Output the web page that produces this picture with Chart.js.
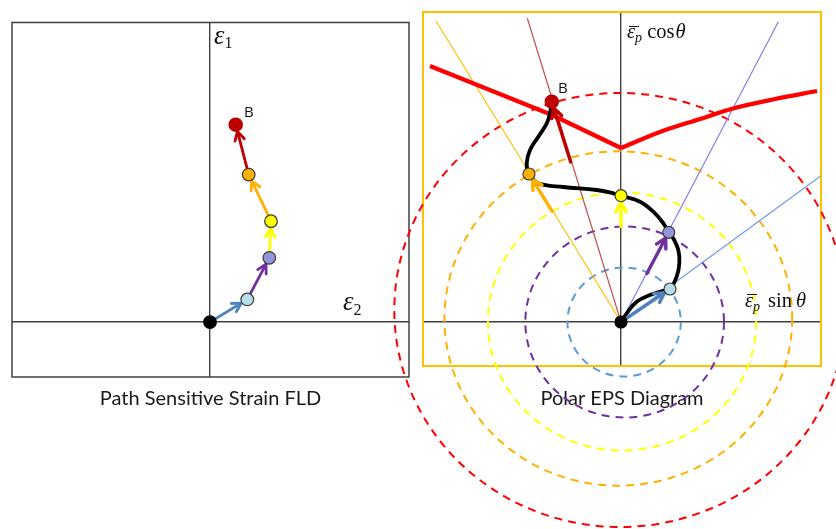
<!DOCTYPE html>
<html><head><meta charset="utf-8">
<script src="https://cdn.jsdelivr.net/npm/chart.js@4.4.1/dist/chart.umd.min.js"></script>
<style>
html,body{margin:0;padding:0;background:#fff;}
#wrap{position:relative;width:836px;height:529px;overflow:hidden;background:#fff;}
canvas{position:absolute;left:0;top:0;}
.lbl{position:absolute;white-space:nowrap;line-height:1;color:#111;}
.ser{font-family:'Liberation Serif','DejaVu Serif',serif;}
.san{font-family:'Open Sans','Liberation Sans',sans-serif;}
.ob{position:relative;}
.ob::before{content:'';position:absolute;left:2px;top:5.5px;width:10px;border-top:1.3px solid #111;}
.sub{font-size:14px;font-style:italic;vertical-align:-4px;}
</style></head><body>
<div id="wrap">
<canvas id="fld" width="836" height="529"></canvas>
<canvas id="polar" width="836" height="529"></canvas>
<div class="lbl ser" style="left:214px;top:22.2px;font-size:26.5px"><i>ε</i><span style="font-size:16px;vertical-align:-3.5px">1</span></div>
<div class="lbl ser" style="left:343px;top:287.7px;font-size:26.5px"><i>ε</i><span style="font-size:16px;vertical-align:-5px">2</span></div>
<div class="lbl san" style="left:244px;top:104.3px;font-size:15px">B</div>
<div class="lbl san" style="left:558px;top:79.9px;font-size:15px">B</div>
<div class="lbl ser" style="left:627px;top:21px;font-size:20.5px"><i class="ob">ε</i><span class="sub">p</span> cos<i style="margin-left:1px">θ</i></div>
<div class="lbl ser" style="left:745px;top:289.7px;font-size:20.5px"><i class="ob">ε</i><span class="sub">p</span><span style="margin-left:8px">sin</span><i style="margin-left:4px">θ</i></div>
</div>
<script>
// ---------- data ----------
// Left: path-sensitive strain FLD (minor strain eps2, major strain eps1)
const fldE2 = [0, 0.373, 0.593, 0.610, 0.387, 0.257];
const fldE1 = [0, 0.227, 0.643, 1.010, 1.477, 1.977];

// Right: polar EPS diagram points (eps_p sin(theta), eps_p cos(theta))
const polarX = [0, 0.471, 0.459, 0.000, -0.885, -0.666];
const polarY = [0, 0.330, 0.897, 1.263, 1.480, 2.203];

// equivalent plastic strain circles
const circleRadius  = [0.545, 0.955, 1.290, 1.672, 2.170];
const circleCenterX = [0.030, 0.035, 0.010, -0.026, -0.010];
const circleCenterY = [0.000, 0.000, 0.005, 0.035, 0.120];

// black strain path in the polar diagram
const pathX = [0, 0.055, 0.151, 0.279, 0.407, 0.471, 0.535, 0.561, 0.551, 0.503, 0.459, 0.407, 0.311, 0.183, 0.000, -0.074, -0.234, -0.555, -0.795, -0.885, -0.907, -0.875, -0.795, -0.714, -0.683, -0.666];
const pathY = [0, 0.087, 0.203, 0.270, 0.313, 0.330, 0.453, 0.587, 0.720, 0.837, 0.897, 0.987, 1.103, 1.203, 1.263, 1.287, 1.320, 1.350, 1.387, 1.480, 1.587, 1.720, 1.853, 1.987, 2.087, 2.203];

// constant-angle rays (end points)
const rayEndX = [1.920, 1.513, -1.779, -0.901];
const rayEndY = [1.460, 3.003, 3.010, 3.037];

// forming limit curve in the polar diagram
const limitLeftX  = [-1.837, -0.663, 0];
const limitLeftY  = [2.560, 2.070, 1.740];
const limitRightX = [0, 0.375, 0.760, 1.077, 1.481, 1.885];
const limitRightY = [1.740, 1.900, 2.030, 2.135, 2.230, 2.310];

// ---------- styles ----------
const stageFill   = ['#000000', '#b7dee8', '#9494dd', '#ffff00', '#ffb000', '#c00000'];
const stageBorder = ['#000000', '#3f3f3f', '#3f3f3f', '#3f3f3f', '#3f3f3f', '#b00000'];
const arrowColors = ['#4f81bd', '#7030a0', '#ffff00', '#ffb000', '#c00000'];
const circleColors = ['#5b9bd5', '#7030a0', '#ffff00', '#ffb000', '#ff0000'];
const rayColors = ['#6d9bf0', '#7f7fe6', '#ffc000', '#c0504d'];

// ---------- plugins ----------
const framePlugin = {
  id: 'frame',
  beforeDatasetsDraw(chart, args, opts) {
    if (!opts || !opts.color) return;
    const {ctx, chartArea: a} = chart;
    ctx.save();
    ctx.strokeStyle = opts.color; ctx.lineWidth = opts.width;
    ctx.strokeRect(a.left, a.top, a.right - a.left, a.bottom - a.top);
    ctx.restore();
  }
};
const circlePlugin = {
  id: 'dashCircles',
  beforeDatasetsDraw(chart, args, opts) {
    if (!opts || !opts.items) return;
    const {ctx, scales: {x, y}} = chart;
    ctx.save();
    ctx.setLineDash(opts.dash); ctx.lineWidth = opts.width;
    opts.items.forEach(c => {
      const cx = x.getPixelForValue(c.cx), cy = y.getPixelForValue(c.cy);
      const rx = Math.abs(x.getPixelForValue(c.cx + c.r) - cx);
      const ry = Math.abs(y.getPixelForValue(c.cy + c.r) - cy);
      ctx.strokeStyle = c.color;
      ctx.beginPath(); ctx.ellipse(cx, cy, rx, ry, 0, 0, Math.PI * 2); ctx.stroke();
    });
    ctx.restore();
  }
};
const arrowPlugin = {
  id: 'arrows',
  beforeDatasetDraw(chart, args, opts) {
    if (!opts || !opts.items || args.index !== opts.beforeIndex) return;
    const {ctx, scales: {x, y}} = chart;
    ctx.save();
    ctx.lineCap = 'round'; ctx.lineJoin = 'round';
    opts.items.forEach(a => {
      const x0 = x.getPixelForValue(a.x0), y0 = y.getPixelForValue(a.y0);
      const x1 = x.getPixelForValue(a.x1), y1 = y.getPixelForValue(a.y1);
      const dx = x1 - x0, dy = y1 - y0, L = Math.hypot(dx, dy);
      const ux = dx / L, uy = dy / L;
      const tx = x1 - ux * opts.gap, ty = y1 - uy * opts.gap;
      ctx.strokeStyle = a.color; ctx.lineWidth = opts.width;
      ctx.beginPath(); ctx.moveTo(x0, y0); ctx.lineTo(tx, ty); ctx.stroke();
      const h = opts.head, c = Math.cos(opts.angle), s = Math.sin(opts.angle);
      ctx.beginPath();
      ctx.moveTo(tx - h * (ux * c - uy * s), ty - h * (ux * s + uy * c));
      ctx.lineTo(tx, ty);
      ctx.lineTo(tx - h * (ux * c + uy * s), ty - h * (-ux * s + uy * c));
      ctx.stroke();
    });
    ctx.restore();
  }
};

function axisScale(min, max, color, width) {
  return {
    type: 'linear', min, max, display: true,
    afterBuildTicks: s => { s.ticks = [{value: 0}]; },
    ticks: {display: false},
    border: {display: false},
    grid: {drawTicks: false, color, lineWidth: width}
  };
}
const pts = (xs, ys) => xs.map((v, i) => ({x: v, y: ys[i]}));
const titleFont = {family: "Lato, 'Open Sans', sans-serif", size: 20, weight: 'normal', lineHeight: 1.2};

// ---------- left chart ----------
const fldArrows = fldE2.slice(1).map((v, i) => ({
  x0: fldE2[i], y0: fldE1[i], x1: v, y1: fldE1[i + 1], color: arrowColors[i]
}));
new Chart(document.getElementById('fld'), {
  type: 'scatter',
  data: {datasets: [{
    data: pts(fldE2, fldE1),
    pointRadius: [6.3, 6.3, 6.3, 6.3, 6.3, 6.6],
    pointBackgroundColor: stageFill,
    pointBorderColor: stageBorder,
    pointBorderWidth: 1.3,
    showLine: false
  }]},
  options: {
    responsive: false, animation: false, devicePixelRatio: 1,
    layout: {padding: {left: 12, top: 22.5, right: 427, bottom: 118.5}},
    scales: {x: axisScale(-1.98, 1.99, '#404040', 1.4), y: axisScale(-0.55, 3.0, '#404040', 1.4)},
    plugins: {
      legend: {display: false}, tooltip: {enabled: false},
      title: {display: true, position: 'bottom', text: 'Path Sensitive Strain FLD', color: '#1a1a1a', font: titleFont, padding: {top: 9.5, bottom: 0}},
      frame: {color: '#404040', width: 1.5},
      arrows: {items: fldArrows, beforeIndex: 0, width: 2.8, gap: 7, head: 10, angle: 0.5}
    }
  },
  plugins: [framePlugin, circlePlugin, arrowPlugin]
});

// ---------- right chart ----------
const polarArrows = polarX.slice(1).map((v, i) => {
  const px = v, py = polarY[i + 1];
  const r = Math.hypot(px, py);
  const rPrev = i === 0 ? 0 : circleRadius[i - 1];
  return {x0: px * rPrev / r, y0: py * rPrev / r, x1: px, y1: py, color: arrowColors[i]};
});
const circles = circleRadius.map((r, i) => ({r, cx: circleCenterX[i], cy: circleCenterY[i], color: circleColors[i]}));
const rayDatasets = rayEndX.map((v, i) => ({
  data: [{x: 0, y: 0}, {x: v, y: rayEndY[i]}],
  showLine: true, borderColor: rayColors[i], borderWidth: 1.2, pointRadius: 0, order: 4
}));
new Chart(document.getElementById('polar'), {
  type: 'scatter',
  data: {datasets: [
    {
      data: pts(polarX, polarY),
      pointRadius: [6, 6, 6, 6, 6, 6.6],
      pointBackgroundColor: stageFill,
      pointBorderColor: stageBorder,
      pointBorderWidth: 1.2,
      showLine: false, order: 0
    },
    {
      data: pts(pathX, pathY), showLine: true, borderColor: '#000000', borderWidth: 3.8,
      tension: 0.4, pointRadius: 0, borderCapStyle: 'round', borderJoinStyle: 'round', order: 1
    },
    {
      data: pts(limitLeftX, limitLeftY), showLine: true, borderColor: '#ff0000', borderWidth: 4.2,
      tension: 0, pointRadius: 0, borderJoinStyle: 'round', order: 2
    },
    {
      data: pts(limitRightX, limitRightY), showLine: true, borderColor: '#ff0000', borderWidth: 4.2,
      cubicInterpolationMode: 'monotone', pointRadius: 0, order: 2
    },
    ...rayDatasets
  ]},
  options: {
    responsive: false, animation: false, devicePixelRatio: 1,
    layout: {padding: {left: 423, top: 12, right: 15, bottom: 118.5}},
    scales: {x: axisScale(-1.904, 1.923, '#404040', 1.4), y: axisScale(-0.44, 3.10, '#404040', 1.4)},
    plugins: {
      legend: {display: false}, tooltip: {enabled: false},
      title: {display: true, position: 'bottom', text: 'Polar EPS Diagram', color: '#1a1a1a', font: titleFont, padding: {top: 20.5, bottom: 0}},
      frame: {color: '#ffc000', width: 2},
      dashCircles: {items: circles, dash: [8, 6], width: 2},
      arrows: {items: polarArrows, beforeIndex: 0, width: 3.4, gap: 6.5, head: 11, angle: 0.5}
    }
  },
  plugins: [framePlugin, circlePlugin, arrowPlugin]
});
</script>
</body></html>
